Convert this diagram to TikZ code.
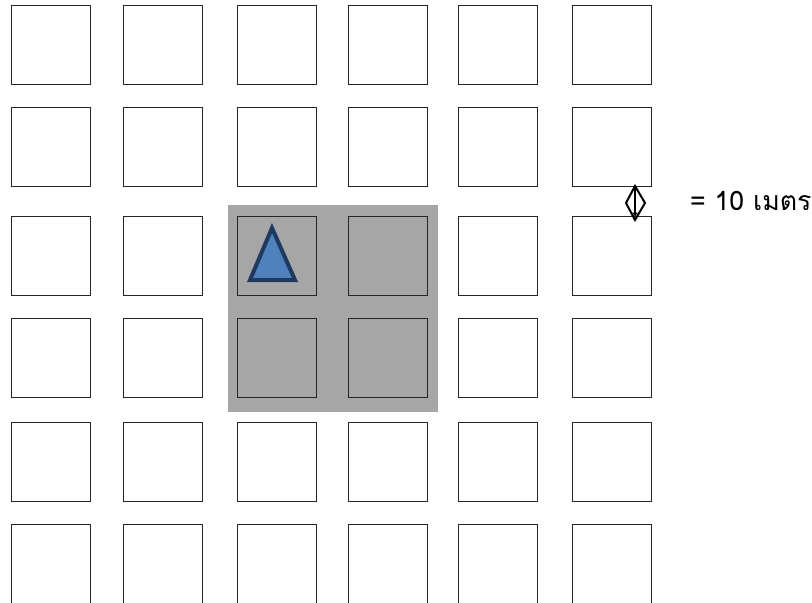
\documentclass[tikz,border=0pt]{standalone}
\usepackage{fontspec}
\newfontfamily\thaifont[Script=Thai]{Loma}
\usepackage{xcolor}
\usetikzlibrary{positioning, arrows.meta}
\definecolor{zonegray}{HTML}{A6A6A6}
\definecolor{markfill}{HTML}{4F81BD}
\definecolor{markline}{HTML}{1F3A60}

\begin{document}
\begin{tikzpicture}[
  x=0.75pt, y=-0.75pt,
  every node/.style={inner sep=0pt, outer sep=0pt},
  cell/.style ={draw=black!85, line width=0.75pt, minimum size=59.25pt},
  zone/.style ={fill=zonegray, draw=none},
  marker/.style={draw=markline, fill=markfill, line width=3pt, line join=miter},
  scalebar/.style={draw=black, line width=1.5pt, line join=miter},
  label/.style={font=\thaifont\fontsize{20}{24}\selectfont, anchor=west},
]
\clip (0,0) rectangle (812,602);
\useasboundingbox (0,0) rectangle (812,602);

% ---- shaded zone behind the centre block ----------------------------------
\fill[zone] (228,205) rectangle (438,412);

% ---- 6 x 6 grid of plots ---------------------------------------------------
\foreach \cx [count=\i] in {51,163,277,388,498,612}{
  \foreach \cy [count=\j] in {45,147,256,358,462,564}{
    \node[cell] (c-\j-\i) at (\cx,\cy) {};
  }
}

% ---- marker in plot (3,3) -------------------------------------------------
\draw[marker] (272,228) -- (295,280) -- (250,280) -- cycle;

% ---- scale symbol (row gap = 10 m) and its label --------------------------
\coordinate (gaptop) at (c-2-6.south west -| 635,0);
\coordinate (gapbot) at (c-3-6.north west -| 635,0);
\draw[scalebar] (635,186) -- (645,203) -- (635,220) -- (626,203) -- cycle;
\draw[scalebar, line width=1pt, {Triangle[length=3pt,width=4pt]}-{Triangle[length=3pt,width=4pt]}]
  (gaptop) -- (gapbot);
\node[label] (scale) at (690,201) {= 10 เมตร};
\end{tikzpicture}
\end{document}
